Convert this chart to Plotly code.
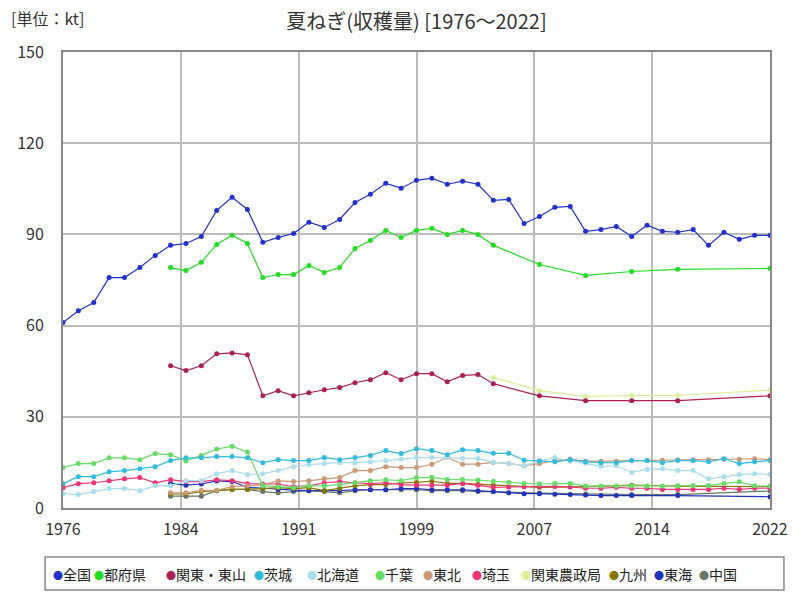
import plotly.graph_objects as go
import numpy as np

years = list(range(1976, 2023))
N = None

# ---- data (kt) ----
zenkoku = [61.0, 64.9, 67.6, 75.8, 75.8, 79.1, 83.1, 86.4, 87.0, 89.3, 97.9, 102.2, 98.2, 87.4, 89.0, 90.3,
           94.0, 92.3, 94.9, 100.5, 103.2, 106.8, 105.2, 107.8, 108.5, 106.5, 107.5, 106.5, 101.2, 101.5, 93.6,
           95.9, 98.9, 99.2, 91.0, 91.6, 92.6, 89.3, 93.0, 91.0, 90.7, 91.6, 86.4, 90.7, 88.4, 89.7, 89.7]
tofuken = [N]*7 + [79.1, 78.1, 80.8, 86.7, 89.7, 87.0, 75.8, 76.8, 76.8, 79.8, 77.5, 79.1, 85.4, 88.0, 91.3,
           89.0, 91.3, 92.0, 90.0, 91.3, 90.0, 86.4, N, N, 80.1, N, N, 76.5, N, N, 77.8, N, N, 78.5,
           N, N, N, N, N, 78.8]
kanto_tozan = [N]*7 + [46.8, 45.2, 46.8, 50.7, 51.0, 50.4, 36.9, 38.6, 36.9, 37.9, 38.9, 39.6, 41.2, 42.2, 44.5,
               42.2, 44.2, 44.2, 41.5, 43.6, 43.9, 40.9, N, N, 36.9, N, N, 35.3, N, N, 35.3, N, N, 35.3,
               N, N, N, N, N, 36.9]
ibaraki = [8.0, 10.3, 10.3, 11.9, 12.3, 12.9, 13.6, 15.6, 16.5, 16.5, 16.9, 16.9, 16.5, 14.9, 15.9, 15.6,
           15.6, 16.6, 15.9, 16.6, 17.3, 18.9, 17.9, 19.5, 18.9, 17.5, 19.2, 18.9, 18.0, 18.0, 15.7,
           15.5, 15.2, 15.9, 15.2, 14.9, 14.9, 15.6, 15.6, 14.9, 15.6, 15.6, 15.2, 16.2, 14.6, 15.2, 15.6]
hokkaido = [4.7, 4.4, 5.4, 6.4, 6.4, 5.7, 7.3, 7.3, 9.0, 9.0, 11.3, 12.3, 11.0, 11.3, 12.3, 13.6,
            14.3, 14.6, 14.9, 14.9, 15.2, 15.6, 16.1, 16.6, 16.6, 16.6, 16.3, 16.3, 15.0, 14.7, 13.9,
            15.5, 16.6, 15.4, 14.7, 13.7, 13.9, 11.7, 12.7, 12.9, 12.3, 12.3, 9.6, 10.3, 11.0, 11.3, 11.0]
chiba = [13.3, 14.6, 14.6, 16.5, 16.5, 15.9, 17.9, 17.5, 15.5, 17.3, 19.4, 20.3, 18.4, 7.3, 7.0, 6.7,
         7.3, 7.3, 7.7, 8.3, 9.0, 9.3, 9.0, 10.0, 10.1, 9.4, 9.4, 9.2, 8.8, 8.4, 8.1,
         7.9, 8.1, 8.1, 7.2, 7.2, 7.2, 7.2, 7.2, 7.2, 7.2, 7.4, 7.4, 8.1, 8.6, 7.3, 7.2]
tohoku = [N]*7 + [5.0, 5.0, 5.8, 5.8, 7.0, 7.3, 7.6, 8.9, 8.7, 9.0, 9.6, 10.0, 12.3, 12.3, 13.6,
          13.3, 13.3, 14.4, 16.6, 14.4, 14.4, 15.0, 14.7, 13.9, 14.6, 15.6, 16.1, 15.4, 15.4, 15.4,
          15.6, 15.6, 15.7, 15.9, 15.9, 15.9, 16.0, 16.0, 16.2, 15.9]
saitama = [6.7, 8.0, 8.3, 9.0, 9.6, 10.0, 8.3, 9.3, 8.7, 8.7, 9.3, 9.0, 8.0, 7.9, 7.9, 7.0,
           7.3, 8.3, 8.7, 8.3, 8.0, 8.3, 7.7, 7.5, 7.5, 7.5, 8.1, 7.5, 6.8, 6.9, 7.0,
           7.1, 7.1, 6.9, 6.5, 6.5, 6.8, 6.5, 6.5, 6.1, 6.1, 6.1, 6.1, 6.5, 6.1, 6.5, 6.5]
kanto_nosei = [N]*28 + [42.9, N, N, 38.6, N, N, 36.7, N, N, 37.0, N, N, 37.0, N, N, N, N, N, 38.8]
kyushu = [N]*7 + [4.6, 4.6, 5.4, 5.7, 6.1, 6.1, 6.4, 6.7, 6.4, 6.7, 5.7, 6.4, 7.3, 7.7, 7.7,
          8.3, 8.4, 8.8, 8.1, 8.1, 7.8, 7.5, N, N, 6.8, N, N, 7.0, N, N, 7.5, N, N, 7.2,
          N, N, N, N, N, 7.0]
tokai = [N]*7 + [8.1, 7.5, 7.9, 8.9, 8.7, 6.8, 6.5, 6.1, 5.9, 5.7, 5.7, 5.7, 6.0, 6.0, 6.0,
         6.4, 6.4, 6.0, 6.0, 6.0, 5.7, 5.4, 5.0, 4.7, 4.7, 4.5, 4.4, 4.3, 4.1, 4.1, 4.1,
         N, N, 4.1, N, N, N, N, N, 3.7]
chugoku = [N]*7 + [3.9, 3.9, 3.9, 5.7, 6.1, 6.1, 5.4, 5.0, 5.4, 5.7, 5.4, 5.0, 5.7, 6.0, 6.0,
           6.0, 6.0, 5.7, 5.7, 5.7, 5.4, 5.4, N, N, 4.9, N, N, 4.6, N, N, 4.4, N, N, 4.4,
           N, N, N, N, N, 5.6]

names = ["全国", "都府県", "関東・東山", "茨城", "北海道", "千葉", "東北", "埼玉",
         "関東農政局", "九州", "東海", "中国"]
series = [zenkoku, tofuken, kanto_tozan, ibaraki, hokkaido, chiba, tohoku, saitama,
          kanto_nosei, kyushu, tokai, chugoku]
colors = ["#2233cc", "#22dd22", "#aa2255", "#33bbdd", "#aaddee", "#66dd66", "#cc9977",
          "#ee3377", "#ddee99", "#887700", "#2233bb", "#667766"]

x_tick_labels = ["1976", "1984", "1991", "1999", "2007", "2014", "2022"]

FONT = "Noto Sans CJK JP, Noto Sans, sans-serif"

fig = go.Figure()
# draw in reverse so 全国 on top
for name, vals, col in reversed(list(zip(names, series, colors))):
    fig.add_trace(go.Scatter(
        x=years, y=vals, name=name, mode="lines+markers",
        connectgaps=True,
        line=dict(color=col, width=1.2),
        marker=dict(color=col, size=5),
        showlegend=False,
    ))

L, R, T, B = 63, 28, 52, 92
W, H = 800, 600
pw, ph = W - L - R, H - T - B


def px_x(px):
    return (px - L) / pw


def px_y(py):
    return (H - B - py) / ph


# legend (manual)
legend_x = [51, 92, 164, 253, 306, 374, 422, 471, 520, 609, 654, 699]
annotations = []
for nm, col, lx in zip(names, colors, legend_x):
    annotations.append(dict(
        x=px_x(lx), y=px_y(574), xref="paper", yref="paper",
        xanchor="left", yanchor="middle", showarrow=False,
        text=f"<span style='color:{col};font-size:10px'>●</span>{nm}",
        font=dict(family=FONT, size=14, color="#222"),
    ))
annotations.append(dict(
    x=px_x(9), y=px_y(18), xref="paper", yref="paper", showarrow=False,
    xanchor="left", yanchor="middle",
    text="[単位：kt]", font=dict(family=FONT, size=16, color="#333"),
))

fig.update_layout(
    width=W, height=H,
    margin=dict(l=L, r=R, t=T, b=B),
    paper_bgcolor="white", plot_bgcolor="white",
    font=dict(family=FONT, color="#333"),
    title=dict(text="夏ねぎ(収穫量) [1976～2022]", x=0.5, xref="paper", xanchor="center",
               y=1 - 22 / H, yref="container", yanchor="middle",
               font=dict(family=FONT, size=20, color="#333")),
    annotations=annotations,
    shapes=[dict(type="rect", xref="paper", yref="paper",
                 x0=px_x(45), x1=px_x(786), y0=px_y(590), y1=px_y(557),
                 line=dict(color="#888", width=1.5), fillcolor="rgba(0,0,0,0)")],
    showlegend=False,
)
fig.update_xaxes(
    range=[1976, 2022],
    tickvals=list(np.linspace(1976, 2022, len(x_tick_labels))),
    ticktext=x_tick_labels,
    showgrid=True, gridcolor="#bbbbbb", gridwidth=1.5,
    showline=True, linecolor="#888", linewidth=2, mirror=True,
    ticks="", ticklabelstandoff=6, tickfont=dict(size=16, color="#333"), zeroline=False,
)
fig.update_yaxes(
    range=[0, 150], tickvals=[0, 30, 60, 90, 120, 150],
    showgrid=True, gridcolor="#bbbbbb", gridwidth=1.5,
    showline=True, linecolor="#888", linewidth=2, mirror=True,
    ticks="", ticklabelstandoff=14, tickfont=dict(size=16, color="#333"), zeroline=False,
)

fig.write_html("out.html")
